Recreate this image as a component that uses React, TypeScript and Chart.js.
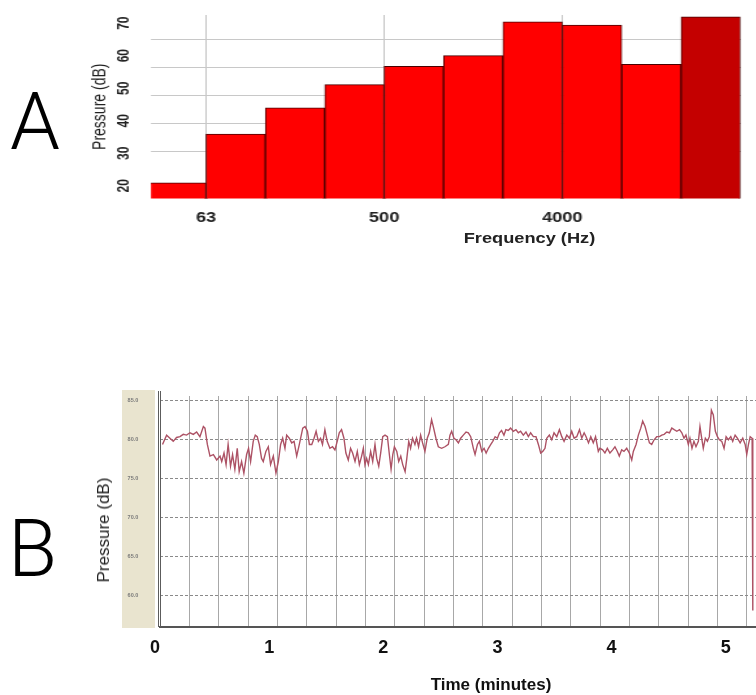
import React, { useEffect, useRef } from 'react';
import { Chart, registerables } from 'chart.js';

Chart.register(...registerables);

const FONT = "'Liberation Sans', Arial, sans-serif";

// ---------------- Panel A : octave-band spectrum ----------------
const bandNames = ['31.5', '63', '125', '250', '500', '1000', '2000', '4000', '8000', '16000'];
const bandPressure = [20.9, 35.9, 44.0, 51.1, 56.7, 60.0, 70.4, 69.4, 57.3, 71.9];
const bandColors = ['#ff0000', '#ff0000', '#ff0000', '#ff0000', '#ff0000', '#ff0000', '#ff0000', '#ff0000', '#ff0000', '#c40000'];
const freqTickPositions = [1, 4, 7]; // band edges
const freqTickLabels = ['63', '500', '4000'];
const pressureTicksA = [20, 30, 40, 50, 60, 70];
const gridLinesA = [1, 2, 3, 4, 5];

// ---------------- Panel B : pressure over time ----------------
const traceTime = [
  0.065, 0.101, 0.130, 0.159, 0.188, 0.218, 0.247, 0.276, 0.306, 0.335,
  0.364, 0.393, 0.423, 0.437, 0.458, 0.481, 0.511, 0.540, 0.569, 0.584,
  0.604, 0.622, 0.640, 0.661, 0.679, 0.699, 0.720, 0.737, 0.758, 0.778,
  0.802, 0.819, 0.837, 0.860, 0.878, 0.895, 0.913, 0.933, 0.948, 0.971,
  0.992, 1.012, 1.036, 1.059, 1.080, 1.100, 1.118, 1.138, 1.153, 1.176,
  1.197, 1.218, 1.241, 1.264, 1.294, 1.314, 1.335, 1.352, 1.373, 1.393,
  1.411, 1.431, 1.450, 1.467, 1.488, 1.508, 1.532, 1.555, 1.576, 1.596,
  1.614, 1.634, 1.655, 1.672, 1.693, 1.713, 1.731, 1.752, 1.772, 1.790,
  1.810, 1.825, 1.839, 1.854, 1.869, 1.889, 1.907, 1.927, 1.942, 1.960,
  1.977, 1.995, 2.015, 2.036, 2.053, 2.068, 2.083, 2.097, 2.118, 2.135,
  2.153, 2.170, 2.191, 2.206, 2.223, 2.239, 2.256, 2.277, 2.291, 2.309,
  2.327, 2.344, 2.365, 2.385, 2.403, 2.423, 2.438, 2.461, 2.482, 2.511,
  2.540, 2.570, 2.584, 2.599, 2.619, 2.637, 2.658, 2.678, 2.701, 2.725,
  2.745, 2.766, 2.789, 2.804, 2.825, 2.842, 2.863, 2.883, 2.901, 2.921,
  2.942, 2.959, 2.980, 3.000, 3.018, 3.036, 3.057, 3.074, 3.095, 3.115,
  3.139, 3.162, 3.183, 3.203, 3.227, 3.250, 3.271, 3.291, 3.315, 3.338,
  3.359, 3.379, 3.397, 3.417, 3.432, 3.455, 3.476, 3.496, 3.520, 3.543,
  3.564, 3.584, 3.608, 3.631, 3.651, 3.672, 3.695, 3.719, 3.739, 3.760,
  3.777, 3.798, 3.818, 3.840, 3.860, 3.884, 3.898, 3.922, 3.942, 3.963,
  3.986, 4.010, 4.030, 4.051, 4.068, 4.089, 4.109, 4.133, 4.156, 4.177,
  4.191, 4.215, 4.235, 4.256, 4.273, 4.294, 4.314, 4.332, 4.352, 4.373,
  4.396, 4.420, 4.440, 4.461, 4.484, 4.508, 4.528, 4.549, 4.572, 4.596,
  4.616, 4.635, 4.652, 4.673, 4.687, 4.705, 4.722, 4.740, 4.761, 4.775,
  4.790, 4.804, 4.822, 4.840, 4.857, 4.875, 4.892, 4.910, 4.928, 4.945,
  4.966, 4.986, 5.004, 5.024, 5.045, 5.062, 5.083, 5.103, 5.127, 5.150,
  5.171, 5.185, 5.200, 5.215, 5.232, 5.238,
];
const tracePressure = [
  79.4, 80.6, 80.2, 79.8, 80.3, 80.4, 80.7, 80.6, 80.9, 80.7,
  81.0, 80.4, 81.7, 81.5, 79.4, 77.9, 78.1, 77.4, 77.9, 77.2,
  78.3, 76.8, 79.4, 76.6, 78.1, 76.2, 78.9, 75.9, 77.2, 75.7,
  78.1, 78.9, 77.2, 79.8, 80.6, 80.4, 79.4, 77.6, 77.2, 78.5,
  79.1, 76.8, 77.9, 75.7, 77.2, 79.4, 80.2, 78.9, 80.6, 80.2,
  79.6, 79.8, 77.9, 79.4, 81.5, 81.7, 81.1, 79.4, 79.4, 80.2,
  81.1, 79.8, 80.2, 79.4, 81.3, 79.8, 78.9, 79.1, 78.7, 79.8,
  80.9, 81.3, 80.2, 78.3, 77.4, 78.9, 78.3, 77.2, 78.5, 76.8,
  77.9, 78.9, 76.8, 77.6, 76.8, 78.5, 77.2, 79.4, 77.6, 76.6,
  78.3, 80.4, 80.6, 80.4, 78.1, 76.2, 78.1, 79.1, 78.5, 77.2,
  77.9, 76.8, 75.9, 77.6, 79.8, 78.9, 80.2, 79.4, 80.2, 79.1,
  80.6, 79.6, 78.5, 80.2, 80.9, 82.6, 81.7, 80.2, 79.1, 78.9,
  79.1, 79.4, 80.6, 81.1, 80.2, 80.0, 79.6, 80.2, 80.6, 81.0,
  80.9, 80.4, 78.9, 78.1, 79.4, 79.8, 78.5, 78.9, 78.3, 78.9,
  79.4, 79.8, 80.4, 80.2, 80.9, 81.2, 80.6, 81.3, 81.2, 81.5,
  81.1, 81.3, 80.9, 81.1, 80.6, 81.0, 80.4, 80.9, 80.4, 80.4,
  79.4, 78.3, 78.5, 78.9, 80.2, 80.6, 80.0, 80.9, 80.4, 81.3,
  80.4, 79.8, 80.6, 80.2, 81.1, 80.2, 80.4, 81.3, 80.2, 80.9,
  80.4, 79.6, 80.4, 79.6, 80.4, 78.5, 78.9, 78.7, 78.3, 78.9,
  78.3, 78.7, 79.1, 78.5, 77.9, 78.7, 78.5, 78.9, 78.3, 77.4,
  78.5, 79.4, 80.6, 81.5, 82.4, 81.7, 80.6, 79.6, 79.4, 80.0,
  80.4, 80.4, 80.6, 80.7, 81.0, 80.9, 81.5, 81.3, 81.1, 81.3,
  80.9, 80.2, 80.6, 79.4, 80.2, 78.9, 79.8, 79.1, 79.8, 81.7,
  80.2, 78.9, 80.2, 79.8, 80.4, 83.8, 83.2, 81.1, 80.4, 80.0,
  79.8, 78.9, 80.4, 80.0, 80.4, 79.8, 80.6, 80.2, 79.6, 80.2,
  79.4, 78.1, 79.4, 80.4, 80.2, 58.0,
];
const timeTicks = [0, 1, 2, 3, 4, 5];
const pressureTicksB = [60, 65, 70, 75, 80, 85];

// ---------------- layout constants ----------------
const STRETCH_A = 1.3; // panel A appears horizontally stretched
const A_W = 582;
const A_H = 260;
const B_TOP = 380;
const B_W = 756;
const B_H = 315;

const panelBFrame = {
  id: 'panelBFrame',
  beforeDraw(chart: any) {
    const { ctx, chartArea: a } = chart;
    ctx.save();
    ctx.fillStyle = '#e9e4cf';
    ctx.fillRect(a.left - 38, a.top - 6, 33, a.bottom - a.top + 7);
    ctx.restore();
  },
  afterDraw(chart: any) {
    const { ctx, chartArea: a } = chart;
    ctx.save();
    ctx.strokeStyle = '#5c5c5c';
    ctx.lineWidth = 1;
    [-2.5, 0].forEach((dx) => {
      ctx.beginPath();
      ctx.moveTo(Math.round(a.left + dx) + 0.5, a.top - 5);
      ctx.lineTo(Math.round(a.left + dx) + 0.5, a.bottom);
      ctx.stroke();
    });
    ctx.restore();
  },
};

export default function App() {
  const refA = useRef<HTMLCanvasElement>(null);
  const refB = useRef<HTMLCanvasElement>(null);

  useEffect(() => {
    const chartA = new Chart(refA.current as HTMLCanvasElement, {
      type: 'bar',
      data: {
        labels: bandNames,
        datasets: [
          {
            data: bandPressure.map((v, i) => ({ x: i + 0.5, y: v })) as any,
            backgroundColor: bandColors,
            borderColor: '#4a0000',
            borderWidth: 1,
            barPercentage: 1,
            categoryPercentage: 1,
            clip: 0,
            xAxisID: 'x',
            yAxisID: 'y',
          } as any,
        ],
      },
      options: {
        responsive: false,
        animation: false,
        events: [],
        layout: { padding: { left: 66, right: 12.4, top: 15, bottom: 21.5 } },
        plugins: { legend: { display: false }, tooltip: { enabled: false } },
        scales: {
          x: {
            type: 'linear',
            position: 'bottom',
            min: 0.074,
            max: 10,
            bounds: 'data',
            offset: false,
            afterBuildTicks: (s: any) => {
              s.ticks = freqTickPositions.map((value) => ({ value }));
            },
            ticks: {
              autoSkip: false,
              maxRotation: 0,
              minRotation: 0,
              padding: 11,
              color: '#222',
              font: { family: FONT, size: 14, weight: 'bold' },
              callback: (_v: any, i: number) => freqTickLabels[i],
            },
            grid: { color: '#c4c4c4', lineWidth: 1, drawTicks: false, offset: false },
            border: { display: false },
            afterFit: (s: any) => {
              s.height = 40;
            },
          } as any,
          y: {
            type: 'linear',
            position: 'left',
            min: 16.1,
            max: 72.5,
            bounds: 'data',
            afterBuildTicks: (s: any) => {
              s.ticks = pressureTicksA.map((value) => ({ value }));
            },
            ticks: {
              autoSkip: false,
              minRotation: 90,
              maxRotation: 90,
              crossAlign: 'center',
              padding: 14,
              color: '#222',
              font: { family: FONT, size: 12, weight: 'bold' },
            },
            grid: { display: false, drawTicks: false },
            border: { display: false },
            title: {
              display: true,
              text: 'Pressure (dB)',
              color: '#222',
              font: { family: FONT, size: 14 },
              padding: { top: 2.5, bottom: 0 },
            },
            afterFit: (s: any) => {
              s.width = 50.15;
              s.paddingTop = 0;
              s.paddingBottom = 0;
            },
          } as any,
          yg: {
            type: 'linear',
            position: 'right',
            min: -0.665,
            max: 5.865,
            bounds: 'data',
            afterBuildTicks: (s: any) => {
              s.ticks = gridLinesA.map((value) => ({ value }));
            },
            ticks: { display: false },
            grid: { color: '#c8c8c8', lineWidth: 1, drawTicks: false },
            border: { display: false },
            afterFit: (s: any) => {
              s.width = 0;
              s.paddingTop = 0;
              s.paddingBottom = 0;
            },
          } as any,
        },
      },
    });

    const chartB = new Chart(refB.current as HTMLCanvasElement, {
      type: 'line',
      data: {
        datasets: [
          {
            data: traceTime.map((t, i) => ({ x: t, y: tracePressure[i] })),
            borderColor: '#ad5265',
            borderWidth: 1.4,
            pointRadius: 0,
            tension: 0,
            fill: false,
            clip: 0,
            xAxisID: 'x',
            yAxisID: 'y',
          } as any,
        ],
      },
      options: {
        responsive: false,
        animation: false,
        events: [],
        layout: { padding: { left: 100, right: 0, top: 16, bottom: 28 } },
        plugins: { legend: { display: false }, tooltip: { enabled: false } },
        scales: {
          x: {
            type: 'linear',
            position: 'bottom',
            min: 0.043,
            max: 5.266,
            bounds: 'data',
            afterBuildTicks: (s: any) => {
              s.ticks = timeTicks.map((value) => ({ value }));
            },
            ticks: {
              autoSkip: false,
              maxRotation: 0,
              minRotation: 0,
              padding: 10.5,
              color: '#111',
              font: { family: FONT, size: 18, weight: 'bold' },
              callback: (_v: any, i: number) => String(timeTicks[i]),
            },
            grid: { display: false, drawTicks: false },
            border: { display: true, color: '#555', width: 2 },
            afterFit: (s: any) => {
              s.height = 40;
              s.paddingLeft = 0;
              s.paddingRight = 0;
            },
          } as any,
          xg: {
            type: 'linear',
            position: 'bottom',
            min: -0.048,
            max: 20.27,
            bounds: 'data',
            ticks: { display: false, stepSize: 1, includeBounds: false },
            grid: { color: '#a8a8a8', lineWidth: 1, drawTicks: false },
            border: { display: false },
            afterFit: (s: any) => {
              s.height = 0;
            },
          } as any,
          y: {
            type: 'linear',
            position: 'left',
            min: 55.88,
            max: 85.64,
            bounds: 'data',
            afterBuildTicks: (s: any) => {
              s.ticks = pressureTicksB.map((value) => ({ value }));
            },
            ticks: {
              autoSkip: false,
              padding: 21.7,
              color: '#7a7a7a',
              font: { family: FONT, size: 5.5, weight: 'bold' },
              callback: (v: any) => Number(v).toFixed(1),
            },
            grid: { color: '#8a8a8a', lineWidth: 1, drawTicks: false },
            border: { display: false, dash: [3, 2] },
            afterFit: (s: any) => {
              s.width = 60;
              s.paddingTop = 0;
              s.paddingBottom = 0;
            },
          } as any,
        },
      },
      plugins: [panelBFrame],
    });

    return () => {
      chartA.destroy();
      chartB.destroy();
    };
  }, []);

  const letterStyle: React.CSSProperties = {
    position: 'absolute',
    fontFamily: 'Roboto, sans-serif',
    fontWeight: 300,
    fontSize: 80,
    lineHeight: '80px',
    color: '#000',
  };

  return (
    <div
      style={{
        position: 'absolute',
        left: 0,
        top: 0,
        width: 756,
        height: 695,
        background: '#fff',
        overflow: 'hidden',
        fontFamily: FONT,
      }}
    >
      <div style={{ ...letterStyle, left: 10, top: 81.5 }}>A</div>
      <div style={{ ...letterStyle, left: 8, top: 508.5 }}>B</div>

      <div
        style={{
          position: 'absolute',
          left: 0,
          top: 0,
          width: A_W,
          height: A_H,
          transform: `scaleX(${STRETCH_A})`,
          transformOrigin: '0 0',
        }}
      >
        <canvas ref={refA} width={A_W} height={A_H} style={{ display: 'block', width: A_W, height: A_H }} />
        <div
          style={{
            position: 'absolute',
            left: 407.3,
            top: 237.5,
            transform: 'translate(-50%, -50%)',
            whiteSpace: 'nowrap',
            fontFamily: FONT,
            fontWeight: 'bold',
            fontSize: 14,
            color: '#222',
          }}
        >
          Frequency (Hz)
        </div>
      </div>

      <canvas
        ref={refB}
        width={B_W}
        height={B_H}
        style={{ position: 'absolute', left: 0, top: B_TOP, display: 'block', width: B_W, height: B_H }}
      />
      <div
        style={{
          position: 'absolute',
          left: 491,
          top: 685,
          transform: 'translate(-50%, -50%)',
          whiteSpace: 'nowrap',
          fontFamily: FONT,
          fontWeight: 'bold',
          fontSize: 17,
          color: '#111',
        }}
      >
        Time (minutes)
      </div>
      <div
        style={{
          position: 'absolute',
          left: 104.2,
          top: 530,
          transform: 'translate(-50%, -50%) rotate(-90deg)',
          whiteSpace: 'nowrap',
          fontFamily: FONT,
          fontSize: 17,
          color: '#222',
        }}
      >
        Pressure (dB)
      </div>
    </div>
  );
}
